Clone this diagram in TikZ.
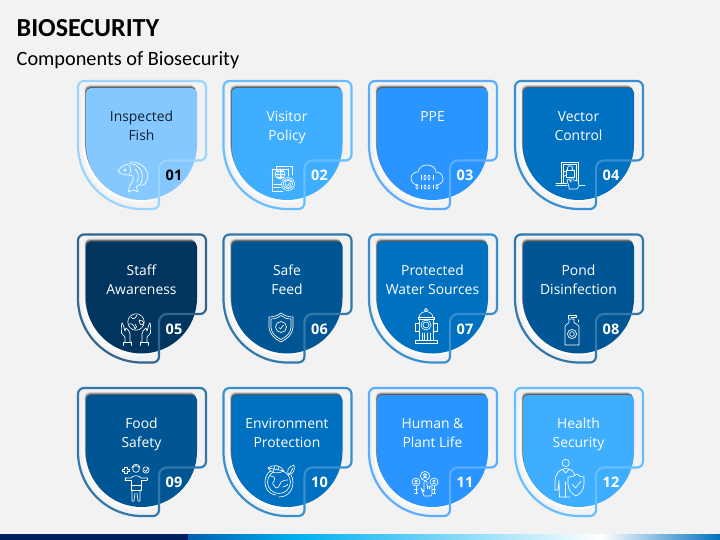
\documentclass[tikz,border=0pt]{standalone}
\usepackage{fontspec}
\setmainfont{Open Sans}
\newfontfamily\titlefont{Carlito}
\definecolor{bgc}{HTML}{F2F2F2}
\definecolor{fA}{HTML}{85C8FF}\definecolor{lA}{HTML}{9AD4FF}
\definecolor{fB}{HTML}{40AEFF}\definecolor{lB}{HTML}{66BFFF}
\definecolor{fC}{HTML}{2B95FF}\definecolor{lC}{HTML}{5CADFF}
\definecolor{fD}{HTML}{0070C0}\definecolor{lD}{HTML}{388FD0}
\definecolor{fE}{HTML}{003560}\definecolor{lE}{HTML}{33668F}
\definecolor{fF}{HTML}{005694}\definecolor{lF}{HTML}{3378AB}
\definecolor{barA}{HTML}{001F60}\definecolor{barB}{HTML}{0060B0}
\definecolor{barC}{HTML}{00B0F0}\definecolor{labdark}{HTML}{10202E}
\tikzset{
  ic/.style={draw=white,line width=.65pt,line cap=round,line join=round},
  labeltext/.style={align=center,inner sep=0pt,font=\fontsize{13.9}{19}\selectfont},
  numtext/.style={font=\fontsize{14.5}{16}\selectfont\bfseries},
}
\newcommand\innerpath{(8,12) arc[start angle=180,end angle=270,radius=5pt] -- (114,7) arc[start angle=270,end angle=360,radius=5pt] -- (119,63.5) arc[start angle=0,end angle=180,radius=55.5pt] -- cycle}
\newcommand\outerpath{(64,128) arc[start angle=90,end angle=180,radius=64pt] -- (0,6) arc[start angle=180,end angle=270,radius=6pt] -- (122,0) arc[start angle=270,end angle=360,radius=6pt] -- (128,73.5) arc[start angle=0,end angle=90,radius=6pt] -- (89,79.5) arc[start angle=270,end angle=180,radius=8pt] -- (81,122) arc[start angle=0,end angle=90,radius=6pt] -- cycle}
% id, x, y, fill, line, label, text colour, label y, number colour
\newcommand\card[9]{%
  \begin{scope}[shift={(#2,#3)}]
    \foreach \d/\o in {4/.25,3/.45,2/.7,1/.9}{\fill[white,opacity=\o,shift={(-\d,\d*.8)}] \innerpath;}
    \foreach \d/\o in {3/.12,2.2/.18,1.5/.25,.8/.3}{\fill[black,opacity=\o,shift={(-\d*.5,-\d)}] \innerpath;}
    \fill[#4] \innerpath;
    \draw[#5,line width=2.2pt] \outerpath;
    \node[labeltext,text=#7] (t#1) at (63.5,#8) {#6};
    \node[numtext,text=#9] (n#1) at (96,94.5) {#1};
  \end{scope}}
\begin{document}
\begin{tikzpicture}[x=1pt,y=1pt,yscale=-1]
\useasboundingbox (0,0) rectangle (720,540);
\fill[bgc] (0,0) rectangle (720,540);
\node[anchor=base west,inner sep=0pt,font=\titlefont\fontsize{26}{30}\selectfont\bfseries] (title) at (16.5,36.5) {BIOSECURITY};
\node[anchor=base west,inner sep=0pt,font=\titlefont\fontsize{20.3}{24}\selectfont] (subtitle) at (16.5,66) {Components of Biosecurity};
% footer
\fill[barA] (0,534) rectangle (188,540);
\shade[left color=barB,right color=barC] (188,534) rectangle (298,540);
\shade[left color=barC,right color=white] (298,534) rectangle (601,540);
\shade[left color=white,right color=fD] (601,534) rectangle (720,540);
% cards
\card{01}{78}{81}{fA}{lA}{\strut Inspected\\\strut Fish}{labdark}{46.4}{black}
\card{02}{223.5}{81}{fB}{lB}{\strut Visitor\\\strut Policy}{white}{46.4}{white}
\card{03}{369}{81}{fC}{lC}{\strut PPE}{white}{36.9}{white}
\card{04}{515}{81}{fD}{lD}{\strut Vector\\\strut Control}{white}{46.4}{white}
\card{05}{78}{234.5}{fE}{lE}{\strut Staff\\\strut Awareness}{white}{46.4}{white}
\card{06}{223.5}{234.5}{fF}{lF}{\strut Safe\\\strut Feed}{white}{46.4}{white}
\card{07}{369}{234.5}{fD}{lD}{\strut Protected\\\strut Water Sources}{white}{46.4}{white}
\card{08}{515}{234.5}{fF}{lF}{\strut Pond\\\strut Disinfection}{white}{46.4}{white}
\card{09}{78}{388}{fF}{lF}{\strut Food\\\strut Safety}{white}{46.4}{white}
\card{10}{223.5}{388}{fD}{lD}{\strut Environment\\\strut Protection}{white}{46.4}{white}
\card{11}{369}{388}{fC}{lC}{\strut Human \&\\\strut Plant Life}{white}{46.4}{white}
\card{12}{515}{388}{fB}{lB}{\strut Health\\\strut Security}{white}{46.4}{white}
% icon 01 fish
\begin{scope}[shift={(133,177)},ic]
\draw (-15,-6) .. controls (-11,-12) and (-5,-14) .. (-1,-13) .. controls (7,-12) and (11,-4) .. (9,3) .. controls (8,7) and (6,9) .. (3,10) -- (5,15) -- (0,13) -- (-5,15) -- (-3,8) .. controls (-1,6) and (1,2) .. (0,-1) .. controls (-2,-3) and (-10,0) .. (-15,-6) -- cycle;
\draw (-3,-15) .. controls (8,-16) and (18,-6) .. (14,3) .. controls (13,7) and (10,9) .. (7,8);
\draw (-8,-7) circle (1.2);
\draw (-4,-12) .. controls (-2,-8) and (-2,-5) .. (-4,-2);
\draw (2,-8) .. controls (6,-5) and (6,0) .. (4,5);
\end{scope}
% icon 02 documents
\begin{scope}[shift={(283,178)},ic]
\draw (-7,-9) -- (-7,-12) -- (9,-12) -- (9,-3);
\draw (5,-9) -- (5,-2);
\draw (-11,-9) -- (5,-9);
\draw (-11,-9) -- (-11,13) -- (0,13);
\draw (-3,-4) circle (5);
\draw (-3,-9) -- (-3,1) (-8,-4) -- (2,-4) (-7,-7) -- (1,-7) (-7,-1) -- (1,-1);
\draw (-3,-4) ellipse (2.2 and 5);
\draw (-9,6) -- (-2,6) (-9,9) -- (-2,9);
\draw[fill=fB] (5,6) circle (6.5);
\draw (5,6) circle (4.8);
\draw (5,2.5) -- (8,3.5) .. controls (8,7) and (7,9) .. (5,10) .. controls (3,9) and (2,7) .. (2,3.5) -- cycle;
\draw (4,6.5) -- (5,7.5) -- (6.5,5);
\end{scope}
% icon 03 cloud
\begin{scope}[shift={(427,178)},ic]
\draw (-9,7) .. controls (-13,7) and (-16,4) .. (-16,0) .. controls (-16,-4) and (-12,-6) .. (-9,-6) .. controls (-8,-11) and (-4,-13) .. (0,-13) .. controls (5,-13) and (9,-10) .. (9,-6) .. controls (13,-6) and (16,-3) .. (16,1) .. controls (16,4) and (13,7) .. (9,7);
\draw (-6,-3) -- (-6,2) (6,-3) -- (6,2);
\draw (-2,-.5) ellipse (1 and 2.4) (2,-.5) ellipse (1 and 2.4);
\draw (-6,7) -- (-6,11) (6,7) -- (6,11);
\draw (-10,9) ellipse (1 and 2) (-2,9) ellipse (1 and 2) (2,9) ellipse (1 and 2) (10,9) ellipse (1 and 2);
\end{scope}
% icon 04 door with padlock
\begin{scope}[shift={(570,174)},ic]
\draw (-9,9) -- (-9,-12) -- (8,-12) -- (8,9);
\draw (-7,9) -- (-7,-10) -- (6,-10) -- (6,9);
\draw (-14,11) -- (-3,11) (7,11) -- (15,11);
\draw (-14,9) -- (-3,9);
\draw (-4,-4) -- (-4,3) -- (4,3) -- (4,-4) -- cycle;
\draw (-2.5,-4) -- (-2.5,-6) .. controls (-2.5,-9) and (2.5,-9) .. (2.5,-6) -- (2.5,-4);
\draw[fill=fD] (-1,13) -- (-3,6) -- (-1,5) -- (1,8) -- (1,4) -- (3,3) -- (3,6) -- (8,7) -- (9,12) -- (7,15) -- (-1,15) -- cycle;
\draw (-7,-3) -- (-4,-2) (-7,3) -- (-4,1);
\end{scope}
% icon 05 globe in hands
\begin{scope}[shift={(136,323)},ic]
\draw (0,-1) circle (8.2);
\draw (-5,-6) .. controls (-3,-3) and (-1,-4) .. (1,-8);
\draw (-7,1) .. controls (-4,0) and (-2,2) .. (-1,6) .. controls (1,5) and (1,3) .. (-1,1);
\draw (3,-3) .. controls (5,-3) and (7,-2) .. (8,0) .. controls (6,3) and (4,3) .. (3,-3);
\foreach \s in {1,-1}{
\begin{scope}[xscale=\s]
\draw (14,0) .. controls (15,3) and (14.5,7) .. (14.5,10) -- (11,14) -- (11,19);
\draw (14,0) .. controls (12,2) and (12,6) .. (11,8) -- (10,5) .. controls (8,7) and (6,8) .. (6,11) -- (6,19);
\draw (4.5,19) -- (12.5,19) -- (12.5,22.5);
\draw (4.5,19) -- (4.5,22.5);
\end{scope}}
\end{scope}
% icon 06 shield
\begin{scope}[shift={(281,327)},ic]
\draw (-12,-10) .. controls (-6,-10) and (-3,-12) .. (0,-14) .. controls (3,-12) and (6,-10) .. (12,-10) -- (12,0) .. controls (12,7) and (6,12) .. (0,15) .. controls (-6,12) and (-12,7) .. (-12,0) -- cycle;
\draw (-10,-8) .. controls (-5,-8) and (-3,-9.5) .. (0,-11.5) .. controls (3,-9.5) and (5,-8) .. (10,-8) -- (10,0) .. controls (10,6) and (5,10) .. (0,12.5) .. controls (-5,10) and (-10,6) .. (-10,0) -- cycle;
\draw (0,0) circle (5.5);
\draw (-2,.5) -- (-.5,2) -- (2.5,-2);
\end{scope}
% icon 07 hydrant
\begin{scope}[shift={(426,326)},ic]
\draw (0,-16) circle (1.6);
\draw (-7,-9) .. controls (-7,-12) and (-3,-14.5) .. (0,-14.5) .. controls (3,-14.5) and (7,-12) .. (7,-9);
\draw (-8,-9) -- (8,-9) -- (8,-7) -- (-8,-7) -- cycle;
\draw (-7,-7) -- (-7,14) (7,-7) -- (7,14);
\draw (-11,14) rectangle (11,17);
\draw (0,-1) circle (5) (0,-1) circle (3);
\draw (-7,-3) -- (-11,-3) -- (-11,5) -- (-7,5) (7,-3) -- (11,-3) -- (11,5) -- (7,5);
\draw (-4,7) -- (-4,14) (-1.3,7) -- (-1.3,14) (1.3,7) -- (1.3,14) (4,7) -- (4,14);
\end{scope}
% icon 08 bottle
\begin{scope}[shift={(572,330)},ic]
\draw (-7,15) -- (-7,-3) .. controls (-7,-6) and (-3,-6) .. (-3,-8) -- (-3,-11) -- (2,-11) -- (2,-8) .. controls (2,-6) and (7,-6) .. (7,-3) -- (7,15) -- cycle;
\draw (-4,-11) -- (-4,-15) -- (4,-15) -- (4,-13) -- (-1,-13);
\draw (6,-10) -- (6,-8);
\draw (0,4) circle (4.6) (0,4) circle (2.4);
\end{scope}
% icon 09 person with food
\begin{scope}[shift={(136,482)},ic]
\draw (0,-13) circle (3.4);
\draw (-4,-14) .. controls (-4,-19) and (4,-19) .. (4,-14);
\draw (-11,-4) -- (-5,-4) .. controls (-4,-7) and (4,-7) .. (5,-4) -- (11,-4);
\draw (-11,-2) -- (-5,-2) -- (-5,8) -- (5,8) -- (5,-2) -- (11,-2);
\draw (-11,-4) -- (-11,-2) (11,-4) -- (11,-2);
\draw (-5,3) -- (5,3);
\draw (-4,8) -- (-4,19) -- (-2,19) -- (-1,11) (4,8) -- (4,19) -- (2,19) -- (1,11);
\draw (-10,-12) ++(-1.2,-3) -- ++(2.4,0) -- ++(0,2) -- ++(2,0) -- ++(0,2.4) -- ++(-2,0) -- ++(0,2) -- ++(-2.4,0) -- ++(0,-2) -- ++(-2,0) -- ++(0,-2.4) -- ++(2,0) -- cycle;
\draw (10,-12) circle (3.2);
\draw (8,-12) -- (10,-10.5) -- (12,-14);
\end{scope}
% icon 10 globe and leaves
\begin{scope}[shift={(279,482)},ic]
\draw (0,0) circle (11.5);
\draw (-3,13) .. controls (-11,12) and (-14,6) .. (-14,0) .. controls (-14,-5) and (-12,-8) .. (-9,-11);
\draw (0,15) .. controls (9,15) and (14,8) .. (14,0) .. controls (14,-3) and (13,-5) .. (12,-7);
\draw (-9,-6) .. controls (-5,-6) and (-3,-4) .. (-5,-1) .. controls (-8,1) and (-5,4) .. (-3,6) .. controls (1,6) and (0,2) .. (2,0) .. controls (5,-1) and (6,-3) .. (9,-2);
\draw (4,5) .. controls (7,5) and (8,3) .. (9,2);
\draw[fill=fD] (-11,-14) .. controls (-6,-18) and (2,-17) .. (5,-11) .. controls (-1,-8) and (-8,-8) .. (-11,-14) -- cycle;
\draw (-11,-14) .. controls (-5,-13) and (0,-12) .. (5,-11);
\draw (-5,-13) -- (-4,-16) (-1,-12.5) -- (0,-15) (-5,-13) -- (-6,-10);
\draw (10,-7) .. controls (7,-11) and (9,-15) .. (15,-17) .. controls (16,-12) and (15,-9) .. (10,-7) -- cycle;
\draw (10,-7) -- (14,-14);
\end{scope}
% icon 11 people and pointing hand
\begin{scope}[shift={(425,483)},ic]
\draw (0,-7) circle (4.6) (0,-8) circle (1.6);
\draw (-2.5,-4.5) .. controls (-2,-6) and (2,-6) .. (2.5,-4.5);
\foreach \s in {1,-1}{
\draw (\s*9,-1) circle (4) (\s*9,-1.8) circle (1.3);
\draw (\s*9-2,1) .. controls (\s*9-1.5,0) and (\s*9+1.5,0) .. (\s*9+2,1);
\draw (\s*9,3.5) -- (\s*9,10) (\s*9-1.5,10) -- (\s*9+1.5,10) (\s*9-1.5,6) -- (\s*9+1.5,6);
}
\draw[fill=fC] (-1,9) -- (-1,-1) .. controls (-1,-3) and (2,-3) .. (2,-1) -- (2,3) -- (7,4) -- (7,11) -- (6,13) -- (-1,13) -- (-4,5) -- cycle;
\draw (4.5,3.5) -- (4.5,6) (2,3) -- (2,6);
\end{scope}
% icon 12 person and shield
\begin{scope}[shift={(569,478)},ic]
\draw (-3.3,-15) circle (3.6);
\draw (-14,4) .. controls (-14,-4) and (-10,-9) .. (-3.3,-9.5) .. controls (2,-9) and (5,-7) .. (6,-2);
\draw (-14,4) -- (-14,12) -- (-11,12) -- (-10,2) -- (-9.5,19) -- (1,19);
\draw (-4,4) -- (-4,19);
\draw (-7,-9) -- (-3.3,-5) -- (0,-9);
\draw[fill=fB] (8,-4) .. controls (10,-1.5) and (13,-1) .. (15,-1) -- (15,6) .. controls (15,12) and (11,16) .. (7,18) .. controls (3,16) and (-1,12) .. (-1,6) -- (-1,-1) .. controls (2,-1) and (6,-2) .. (8,-4) -- cycle;
\draw (3,6) -- (6.5,10) -- (12,3);
\end{scope}
\end{tikzpicture}
\end{document}
